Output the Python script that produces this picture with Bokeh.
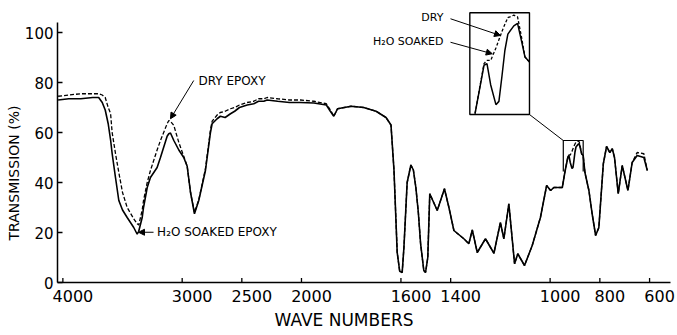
import numpy as np
from bokeh.plotting import figure
from bokeh.models import (Range1d, FixedTicker, Title, Label, Arrow,
                          NormalHead, ColumnDataSource)
from bokeh.embed import file_html
from bokeh.resources import INLINE

# ---------------- data ----------------
wavenumber = [4040, 3950, 3850, 3750, 3700, 3670, 3645, 3620, 3600, 3587, 3559, 3531, 3500,
              3461, 3406, 3377, 3364, 3335, 3324, 3293, 3266, 3210, 3182, 3126, 3112, 3098,
              3070, 3028, 2987, 2958, 2930, 2897, 2861, 2805, 2763, 2749, 2707, 2680, 2640,
              2595, 2560, 2520, 2455, 2400, 2360, 2316, 2288, 2200, 2100, 2008, 1950, 1900,
              1884, 1870, 1855, 1800, 1750, 1700, 1660, 1640, 1628, 1615, 1605, 1595, 1588,
              1575, 1560, 1550, 1540, 1530, 1521, 1508, 1501, 1492, 1484, 1454, 1425, 1407,
              1387, 1347, 1327, 1313, 1293, 1260, 1226, 1200, 1186, 1166, 1143, 1130, 1103,
              1072, 1039, 1014, 998, 985, 951, 940, 928, 924, 919, 912, 908, 904, 900, 896,
              888, 883, 878, 873, 867, 860, 844, 831, 817, 804, 786, 773, 760, 750, 741, 726,
              710, 687, 670, 650, 623, 609]

h2o_soaked = [73, 73.5, 73.5, 74, 74, 72, 69, 63.5, 57, 51.6, 42, 32.8, 29,
              26, 22, 19.3, 20.5, 26, 30, 38, 42, 46, 50, 58.5, 59.5, 59.8,
              56.8, 53, 50, 46.5, 36, 27.5, 32.8, 44.8, 60, 63.5, 65.5, 66.5, 66,
              67.5, 68.5, 70, 71, 71.5, 72.5, 72.5, 73, 72.5, 72, 72, 71.8, 71,
              68.5, 66.5, 69.5, 70.5, 70, 68.5, 66, 63, 45, 12, 4.5, 4, 14,
              40, 47, 45, 38, 28, 15.6, 4.8, 4, 10, 35.5, 28.8, 37.5, 30,
              20.8, 17.5, 15.5, 21, 12, 17.5, 11.7, 24, 17.5, 31.5, 7.5, 11.5, 6.8,
              14.8, 26, 38.8, 36.8, 38, 38, 44.5, 50.4, 50.6, 48, 45.6, 46, 49, 52.2, 54.2,
              55.2, 55.5, 53.5, 51.4, 50.8, 44, 36.8, 27.5, 18.8, 22, 47.5, 54.4, 52, 53.5, 50, 35.5,
              46.8, 36.8, 48, 50.8, 50, 44.8]

dry = [74.5, 75, 75.5, 75.5, 75.5, 75, 74, 70, 67.6, 60, 51.6, 44, 36,
       30, 25.5, 23.5, 23, 29, 32.8, 40, 44.8, 53, 56.8, 63.5, 64.8, 64.5,
       62.8, 56, 50.5, 46.5, 36, 28, 33, 45.5, 61, 64.5, 67, 68, 68.5,
       69.5, 70, 71, 72, 72.5, 73.5, 73.5, 74, 73.5, 73, 73, 72.5, 71.5,
       69, 66.5, 69.5, 70.5, 70, 68.5, 66, 63, 45, 12, 4.5, 4, 14,
       40, 47, 45, 38, 28, 15.6, 4.8, 4, 10, 35.5, 28.8, 37.5, 30,
       20.8, 17.5, 15.5, 21, 12, 17.5, 11.7, 24, 17.5, 31.5, 7.5, 11.5, 6.8,
       14.8, 26, 38.8, 36.8, 38, 38, 44.5, 50.6, 51, 51, 52.5, 53.5, 54.5, 55.4, 56.2,
       56.5, 56.3, 54, 51.4, 50.8, 44, 36.8, 27.5, 18.8, 22, 47.5, 54.4, 52, 53.5, 50, 35.5,
       46.8, 36.8, 48, 52, 51.5, 44.8]

tick_wavenumbers = [4000, 3000, 2500, 2000, 1600, 1400, 1000, 800, 600]
tick_labels = ["4000", "3000", "2500", "2000", "1600", "1400", "1000", "800", "600"]
y_ticks = [0, 20, 40, 60, 80, 100]

# magnified region shown in the inset
inset_wn = (947, 867)
inset_pct = (44.4, 56.8)

# ---------------- axis transform (scale doubles below 2000 cm-1) ----------------
K = 2.084


def to_t(w):
    w = np.asarray(w, dtype=float)
    return np.where(w >= 2000, 4000 - w, 2000 + (2000 - w) * K)


FONT = "DejaVu Sans"

p = figure(width=677, height=335, x_range=Range1d(-45, 5093), y_range=Range1d(0, 109.6),
           output_backend="svg", toolbar_location=None,
           min_border_left=57, min_border_right=7, min_border_top=8, min_border_bottom=53)
p.outline_line_color = None
p.xgrid.visible = False
p.ygrid.visible = False
p.background_fill_color = "white"
p.border_fill_color = "white"

tt = to_t(tick_wavenumbers)

# x axis: labels are printed a little right of their tick marks in the original
label_pos = [int(round(v + 84)) for v in tt]
xa = p.xaxis[0]
xa.ticker = FixedTicker(ticks=label_pos)
xa.major_label_overrides = {k: s for k, s in zip(label_pos, tick_labels)}
xa.major_tick_line_color = None
xa.minor_tick_line_color = None
xa.major_tick_in = 0
xa.major_tick_out = 0
xa.major_label_standoff = 7
xa.major_label_text_font = FONT
xa.major_label_text_font_size = "16px"
xa.major_label_text_color = "black"
xa.axis_line_width = 1.5
xa.axis_line_color = "black"
# the tick marks themselves (short, pointing into the plot)
p.segment(x0=tt, y0=0, x1=tt, y1=1.8, line_color="black", line_width=1.3)

p.add_layout(Title(text="WAVE NUMBERS", align="left", offset=217, standoff=6,
                   text_font=FONT, text_font_size="17px", text_font_style="normal",
                   text_color="black"), "below")

ya = p.yaxis[0]
ya.ticker = FixedTicker(ticks=y_ticks)
ya.bounds = (0, 104)
ya.major_tick_in = 5
ya.major_tick_out = 0
ya.minor_tick_line_color = None
ya.major_label_standoff = 4
ya.major_label_text_font = FONT
ya.major_label_text_font_size = "15px"
ya.major_label_text_color = "black"
ya.axis_line_width = 1.5
ya.major_tick_line_width = 1.3
p.add_layout(Title(text="TRANSMISSION (%)", align="left", offset=42, standoff=0,
                   text_font=FONT, text_font_size="14px", text_font_style="normal",
                   text_color="black"), "left")

# ---------------- spectra ----------------
t_all = to_t(wavenumber)
src = ColumnDataSource(dict(t=t_all, soaked=h2o_soaked, dry=dry))
p.line("t", "dry", source=src, line_color="black", line_width=1.3, line_dash="4 2")
p.line("t", "soaked", source=src, line_color="black", line_width=1.6)

# ---------------- inset (magnified copy of the marked region) ----------------
box_t = (3411, 3911)
box_y = (67.2, 107.9)
t0, t1 = to_t(inset_wn[0]), to_t(inset_wn[1])
wn_arr = np.array(wavenumber, dtype=float)
mask = (wn_arr <= 940) & (wn_arr >= inset_wn[1])


def to_inset(tv, yv):
    xi = box_t[0] + (tv - t0) / (t1 - t0) * (box_t[1] - box_t[0])
    yi = box_y[0] + (np.asarray(yv) - inset_pct[0]) / (inset_pct[1] - inset_pct[0]) * (box_y[1] - box_y[0])
    return xi, yi


xi, yi_s = to_inset(t_all[mask], np.array(h2o_soaked)[mask])
_, yi_d = to_inset(t_all[mask], np.array(dry)[mask])
p.line(xi, yi_d, line_color="black", line_width=1.3, line_dash="3 2")
p.line(xi, yi_s, line_color="black", line_width=1.5)

p.quad(left=[box_t[0]], right=[box_t[1]], bottom=[box_y[0]], top=[box_y[1]],
       fill_color=None, line_color="black", line_width=1.4)
p.line([float(t0), float(t0), float(t1), float(t1)],
       [inset_pct[0], inset_pct[1], inset_pct[1], inset_pct[0]],
       line_color="black", line_width=1.2)
p.line([box_t[1], float(t0)], [box_y[0], inset_pct[1]], line_color="black", line_width=1.0)

# ---------------- annotations ----------------
def add_label(x, y, text, align="left", size="12px"):
    p.add_layout(Label(x=x, y=y, text=text, text_font=FONT, text_font_size=size,
                       text_align=align, text_baseline="middle", text_color="black"))


def add_arrow(x0, y0, x1, y1):
    p.add_layout(Arrow(end=NormalHead(size=6, fill_color="black", line_color="black"),
                       x_start=x0, y_start=y0, x_end=x1, y_end=y1,
                       line_color="black", line_width=1.0))


add_label(1137, 80.8, "DRY EPOXY")
add_arrow(1097, 80.8, 902, 65.5)
add_label(790, 20.1, "H\u2082O SOAKED EPOXY")
add_arrow(760, 20.1, 634, 20.1)

add_label(3190, 106, "DRY", align="right", size="11px")
add_label(3190, 96.4, "H\u2082O SOAKED", align="right", size="11px")
add_arrow(3249, 105.5, 3668, 98.8)
add_arrow(3249, 96.1, 3599, 91.5)

open("out.html", "w").write(file_html(p, INLINE))
